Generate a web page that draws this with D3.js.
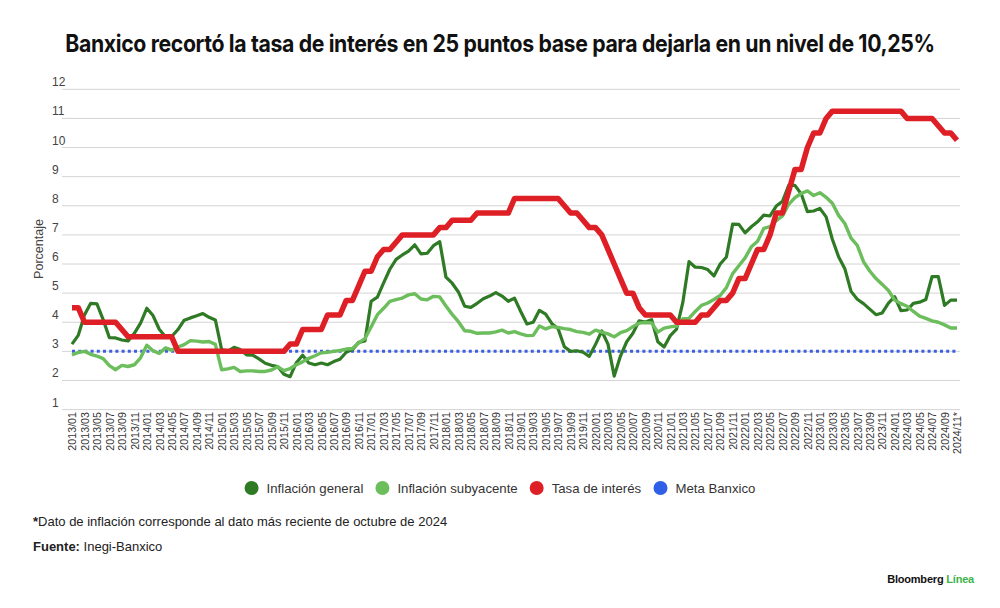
<!DOCTYPE html>
<html>
<head>
<meta charset="utf-8">
<style>
  body { margin: 0; background: #fff; }
  svg { display: block; font-family: "Liberation Sans", Arial, sans-serif; }
  .grid line { stroke: #d4d4d4; stroke-width: 1; }
  .ytick { font-size: 12px; fill: #444; }
  .xtick { font-size: 10.7px; fill: #333; }
  .title { font-family: Inter, "Liberation Sans", sans-serif; font-weight: 700; font-size: 24px; fill: #111; letter-spacing: -0.4px; }
  .legend text { font-size: 13.2px; fill: #333; }
  .note { font-size: 13px; fill: #222; }
</style>
</head>
<body>
<svg width="1000" height="608"></svg>
<script src="https://cdnjs.cloudflare.com/ajax/libs/d3/7.8.5/d3.min.js"></script>
<script>
// Data (monthly, 2013/01 - 2024/11)
var firstMonth = "2013-01-01", lastMonth = "2024-11-01";
var yTicks = [1, 2, 3, 4, 5, 6, 7, 8, 9, 10, 11, 12];

var inflacionGeneral = [
  3.25, 3.55, 4.25, 4.65, 4.63, 4.09, 3.47, 3.46, 3.39, 3.36, 3.62, 3.97,
  4.48, 4.23, 3.76, 3.50, 3.51, 3.75, 4.07, 4.15, 4.22, 4.30, 4.17, 4.08,
  3.07, 3.00, 3.14, 3.06, 2.88, 2.87, 2.74, 2.59, 2.52, 2.48, 2.21, 2.13,
  2.61, 2.87, 2.60, 2.54, 2.60, 2.54, 2.65, 2.73, 2.97, 3.06, 3.31, 3.36,
  4.72, 4.86, 5.35, 5.82, 6.16, 6.31, 6.44, 6.66, 6.35, 6.37, 6.63, 6.77,
  5.55, 5.34, 5.04, 4.55, 4.51, 4.65, 4.81, 4.90, 5.02, 4.90, 4.72, 4.83,
  4.37, 3.94, 4.00, 4.41, 4.28, 3.95, 3.78, 3.16, 3.00, 3.02, 2.97, 2.83,
  3.24, 3.70, 3.25, 2.15, 2.84, 3.33, 3.62, 4.05, 4.01, 4.09, 3.33, 3.15,
  3.54, 3.76, 4.67, 6.08, 5.89, 5.88, 5.81, 5.59, 6.00, 6.24, 7.37, 7.36,
  7.07, 7.28, 7.45, 7.68, 7.65, 7.99, 8.15, 8.70, 8.70, 8.41, 7.80, 7.82,
  7.91, 7.62, 6.85, 6.25, 5.84, 5.06, 4.79, 4.64, 4.45, 4.26, 4.32, 4.66,
  4.88, 4.40, 4.42, 4.65, 4.69, 4.78, 5.57, 5.57, 4.58, 4.76, 4.76
];

var inflacionSubyacente = [
  2.88, 2.96, 3.00, 2.90, 2.84, 2.75, 2.51, 2.37, 2.52, 2.48, 2.54, 2.78,
  3.21, 3.02, 2.93, 3.12, 3.04, 3.15, 3.23, 3.37, 3.35, 3.32, 3.34, 3.24,
  2.37, 2.40, 2.45, 2.31, 2.33, 2.33, 2.31, 2.31, 2.36, 2.47, 2.34, 2.41,
  2.54, 2.64, 2.76, 2.85, 2.95, 2.97, 3.00, 3.03, 3.08, 3.10, 3.29, 3.44,
  3.84, 4.26, 4.48, 4.72, 4.78, 4.83, 4.94, 4.98, 4.80, 4.77, 4.89, 4.87,
  4.56, 4.27, 4.02, 3.71, 3.69, 3.62, 3.63, 3.63, 3.67, 3.73, 3.63, 3.68,
  3.60, 3.54, 3.55, 3.87, 3.77, 3.85, 3.82, 3.78, 3.75, 3.68, 3.65, 3.59,
  3.73, 3.66, 3.60, 3.50, 3.64, 3.71, 3.85, 3.97, 3.99, 3.98, 3.66, 3.80,
  3.84, 3.87, 4.12, 4.13, 4.37, 4.58, 4.66, 4.78, 4.92, 5.19, 5.67, 5.94,
  6.21, 6.59, 6.78, 7.22, 7.28, 7.49, 7.65, 8.05, 8.28, 8.42, 8.51, 8.35,
  8.45, 8.29, 8.09, 7.67, 7.39, 6.89, 6.64, 6.08, 5.76, 5.50, 5.30, 5.09,
  4.76, 4.64, 4.55, 4.37, 4.21, 4.13, 4.05, 4.00, 3.91, 3.80, 3.80
];

var tasaInteres = [
  4.50, 4.50, 4.00, 4.00, 4.00, 4.00, 4.00, 4.00, 3.75, 3.50, 3.50, 3.50,
  3.50, 3.50, 3.50, 3.50, 3.50, 3.00, 3.00, 3.00, 3.00, 3.00, 3.00, 3.00,
  3.00, 3.00, 3.00, 3.00, 3.00, 3.00, 3.00, 3.00, 3.00, 3.00, 3.00, 3.25,
  3.25, 3.75, 3.75, 3.75, 3.75, 4.25, 4.25, 4.25, 4.75, 4.75, 5.25, 5.75,
  5.75, 6.25, 6.50, 6.50, 6.75, 7.00, 7.00, 7.00, 7.00, 7.00, 7.00, 7.25,
  7.25, 7.50, 7.50, 7.50, 7.50, 7.75, 7.75, 7.75, 7.75, 7.75, 7.75, 8.25,
  8.25, 8.25, 8.25, 8.25, 8.25, 8.25, 8.25, 8.00, 7.75, 7.75, 7.50, 7.25,
  7.25, 7.00, 6.50, 6.00, 5.50, 5.00, 5.00, 4.50, 4.25, 4.25, 4.25, 4.25,
  4.25, 4.00, 4.00, 4.00, 4.00, 4.25, 4.25, 4.50, 4.75, 4.75, 5.00, 5.50,
  5.50, 6.00, 6.50, 6.50, 7.00, 7.75, 7.75, 8.50, 9.25, 9.25, 10.00, 10.50,
  10.50, 11.00, 11.25, 11.25, 11.25, 11.25, 11.25, 11.25, 11.25, 11.25, 11.25, 11.25,
  11.25, 11.25, 11.00, 11.00, 11.00, 11.00, 11.00, 10.75, 10.50, 10.50, 10.25
];

var metaBanxico = 3;

var series = [
  { name: "Inflación general", values: inflacionGeneral, color: "#2f7a24", width: 3.2 },
  { name: "Inflación subyacente", values: inflacionSubyacente, color: "#6cbd5c", width: 3.4 },
  { name: "Tasa de interés", values: tasaInteres, color: "#df1f26", width: 5.5 }
];
var legendItems = [
  { name: "Inflación general", color: "#2f7a24" },
  { name: "Inflación subyacente", color: "#6cbd5c" },
  { name: "Tasa de interés", color: "#df1f26" },
  { name: "Meta Banxico", color: "#2f5fe6" }
];

var fmtMonth = d3.utcFormat("%Y/%m");
var months = d3.utcMonth.range(new Date(firstMonth), d3.utcMonth.offset(new Date(lastMonth), 1)).map(fmtMonth);
var lastLabel = months[months.length - 1] + "*";

var svg = d3.select("svg");

var x = d3.scalePoint().domain(months).range([72, 957]);
var y = d3.scaleLinear().domain([1, 12]).range([409.6, 89.3]);

// title, squeezed horizontally to the reference width (condensed face)
var title = svg.append("g").attr("transform", "translate(500,52)");
var tt = title.append("text").attr("class", "title")
  .attr("x", 0).attr("y", 0).attr("text-anchor", "middle")
  .text("Banxico recortó la tasa de interés en 25 puntos base para dejarla en un nivel de 10,25%");
var tw = tt.node().getComputedTextLength();
tt.attr("transform", "scale(" + (870 / tw) + ",1)");

// grid + y labels
var grid = svg.append("g").attr("class", "grid");
grid.selectAll("line").data(yTicks).join("line")
  .attr("x1", 62).attr("x2", 960)
  .attr("y1", d => y(d)).attr("y2", d => y(d));
svg.append("g").selectAll("text").data(yTicks).join("text")
  .attr("class", "ytick")
  .attr("x", 52).attr("y", d => y(d) - 3)
  .text(d => d);

svg.append("text")
  .attr("transform", "translate(43,249) rotate(-90)")
  .attr("text-anchor", "middle")
  .style("font-size", "12.5px").style("fill", "#444")
  .text("Porcentaje");

// x labels, every second month
var xAxis = d3.axisBottom(x)
  .tickValues(months.filter((m, i) => i % 2 === 0))
  .tickSize(0).tickPadding(0)
  .tickFormat(m => m === months[months.length - 1] ? lastLabel : m);
var gx = svg.append("g").attr("transform", "translate(0,412)").call(xAxis);
gx.select(".domain").remove();
gx.selectAll("text")
  .attr("class", "xtick")
  .attr("transform", "rotate(-90)")
  .attr("x", 0).attr("y", 0).attr("dy", "0.35em")
  .attr("text-anchor", "end")
  .attr("fill", null);
gx.attr("font-family", null).attr("font-size", null);

// lines
var line = d3.line()
  .x((d, i) => x(months[i]))
  .y(d => y(d));

// meta line (drawn first so the red line covers it)
svg.append("line")
  .attr("x1", x(months[0])).attr("x2", x(months[months.length - 1]))
  .attr("y1", y(metaBanxico)).attr("y2", y(metaBanxico))
  .attr("stroke", "#3b5fe0").attr("stroke-width", 3)
  .attr("stroke-dasharray", "3,3.2");

svg.append("g").selectAll("path").data(series).join("path")
  .attr("d", d => line(d.values))
  .attr("fill", "none")
  .attr("stroke", d => d.color)
  .attr("stroke-width", d => d.width)
  .attr("stroke-linejoin", "round");

// legend
var lg = svg.append("g").attr("class", "legend");
var items = lg.selectAll("g").data(legendItems).join("g");
items.append("circle").attr("r", 7).attr("cx", 0).attr("cy", 0).attr("fill", d => d.color);
items.append("text").attr("x", 15).attr("dy", "0.35em").text(d => d.name);
var xpos = 0;
items.each(function() {
  var w = this.getBBox().width;
  d3.select(this).attr("transform", "translate(" + (xpos + 7) + ",0)");
  xpos += w + 12;
});
var totalW = xpos - 12;
lg.attr("transform", "translate(" + (500 - totalW / 2) + ",488)");

// notes
var n1 = svg.append("text").attr("class", "note").attr("x", 33).attr("y", 526);
n1.append("tspan").style("font-weight", 700).text("*");
n1.append("tspan").text("Dato de inflación corresponde al dato más reciente de octubre de 2024");
var n2 = svg.append("text").attr("class", "note").attr("x", 33).attr("y", 551);
n2.append("tspan").style("font-weight", 700).text("Fuente:");
n2.append("tspan").text(" Inegi-Banxico");

// logo
var logo = svg.append("text").attr("x", 974).attr("y", 583).attr("text-anchor", "end")
  .style("font-size", "11px").style("font-weight", 700).style("letter-spacing", "-0.2px");
logo.append("tspan").attr("fill", "#111").text("Bloomberg ");
logo.append("tspan").attr("fill", "#3cb44b").text("Línea");
</script>
</body>
</html>
